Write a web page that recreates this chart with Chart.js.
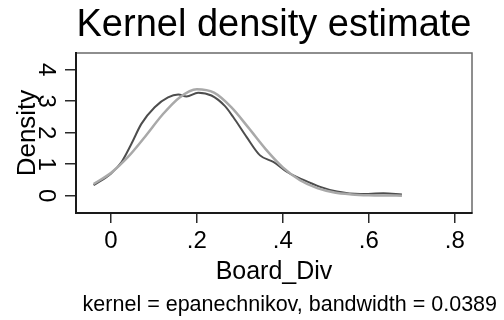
<!DOCTYPE html>
<html>
<head>
<meta charset="utf-8">
<title>Kernel density estimate</title>
<script src="https://cdn.jsdelivr.net/npm/chart.js"></script>
<style>
    html, body { margin: 0; padding: 0; background: #ffffff; }
    canvas { display: block; }
</style>
</head>
<body>
<canvas id="myChart" width="504" height="320"></canvas>
<script>
    // kernel density (dark line)
    const kdeX = [-0.04, 0.0, 0.025, 0.048, 0.071, 0.102, 0.133, 0.157, 0.176, 0.203, 0.234, 0.265, 0.285, 0.316, 0.347, 0.378, 0.409, 0.448, 0.487, 0.526, 0.58, 0.634, 0.677];
    const kdeY = [0.33, 0.7, 1.07, 1.65, 2.28, 2.81, 3.12, 3.21, 3.15, 3.27, 3.18, 2.85, 2.49, 1.86, 1.28, 1.07, 0.76, 0.5, 0.28, 0.13, 0.05, 0.08, 0.04];

    // normal density overlay (light line)
    const normX = [-0.04, 0.0, 0.04, 0.08, 0.12, 0.16, 0.2, 0.24, 0.28, 0.32, 0.36, 0.4, 0.44, 0.48, 0.52, 0.56, 0.6, 0.64, 0.677];
    const normY = [0.37, 0.72, 1.23, 1.88, 2.57, 3.12, 3.38, 3.27, 2.81, 2.16, 1.48, 0.9, 0.49, 0.24, 0.1, 0.04, 0.013, 0.004, 0.001];

    const xTicks = [0, 0.2, 0.4, 0.6, 0.8];
    const xTickLabels = ['0', '.2', '.4', '.6', '.8'];
    const yTicks = [0, 1, 2, 3, 4];
    const yTickLabels = ['0', '1', '2', '3', '4'];

    const fontFamily = "'Liberation Sans', Arial, Helvetica, sans-serif";

    const toPoints = (xs, ys) => xs.map((x, i) => ({ x, y: ys[i] }));

    // gray frame on top and right of the plot region
    const framePlugin = {
        id: 'frame',
        beforeDraw(chart) {
            const { ctx, chartArea } = chart;
            ctx.save();
            ctx.strokeStyle = '#6a6a6a';
            ctx.lineWidth = 1.5;
            ctx.strokeRect(chartArea.left, chartArea.top, chartArea.right - chartArea.left, chartArea.bottom - chartArea.top);
            ctx.restore();
        }
    };

    const ctx = document.getElementById('myChart');

    new Chart(ctx, {
        type: 'line',
        data: {
            datasets: [
                {
                    label: 'Normal density',
                    data: toPoints(normX, normY),
                    borderColor: '#a9a9a9',
                    borderWidth: 2.5,
                    pointRadius: 0,
                    fill: false,
                    cubicInterpolationMode: 'monotone',
                    order: 0
                }, {
                    label: 'Kernel density estimate',
                    data: toPoints(kdeX, kdeY),
                    borderColor: '#4d4d4d',
                    borderWidth: 2,
                    pointRadius: 0,
                    fill: false,
                    cubicInterpolationMode: 'monotone',
                    order: 1
                }
            ]
        },
        options: {
            responsive: false,
            animation: false,
            devicePixelRatio: 1,
            layout: {
                padding: { left: 0, right: 7, top: 0, bottom: 0 }
            },
            plugins: {
                legend: { display: false },
                tooltip: { enabled: false },
                title: {
                    display: true,
                    text: 'Kernel density estimate',
                    fullSize: false,
                    color: '#000000',
                    font: { family: fontFamily, size: 38, weight: 'normal' },
                    padding: { top: 3, bottom: 4.4 }
                },
                subtitle: {
                    display: true,
                    position: 'bottom',
                    align: 'end',
                    text: 'kernel = epanechnikov, bandwidth = 0.0389',
                    color: '#000000',
                    font: { family: fontFamily, size: 21.5, weight: 'normal' },
                    padding: { top: 0, bottom: 2.5 }
                }
            },
            scales: {
                x: {
                    type: 'linear',
                    position: 'bottom',
                    min: -0.081,
                    max: 0.84,
                    afterBuildTicks: scale => { scale.ticks = xTicks.map(v => ({ value: v })); },
                    afterFit: scale => { scale.height = 78.7; },
                    grid: { display: true, drawOnChartArea: false, drawTicks: true, tickLength: 10, color: '#2a2a2a', lineWidth: 1.5 },
                    border: { display: true, color: '#1a1a1a', width: 2 },
                    ticks: {
                        color: '#000000',
                        font: { family: fontFamily, size: 24 },
                        padding: 4,
                        maxRotation: 0,
                        autoSkip: false,
                        callback: (value, index) => xTickLabels[index]
                    },
                    title: {
                        display: true,
                        text: 'Board_Div',
                        color: '#000000',
                        font: { family: fontFamily, size: 25 },
                        padding: { top: 0, bottom: 5 }
                    }
                },
                y: {
                    type: 'linear',
                    position: 'left',
                    min: -0.55,
                    max: 4.53,
                    afterBuildTicks: scale => { scale.ticks = yTicks.map(v => ({ value: v })); },
                    afterFit: scale => { scale.width = 76; },
                    grid: { display: true, drawOnChartArea: false, drawTicks: true, tickLength: 11, color: '#2a2a2a', lineWidth: 1.5 },
                    border: { display: true, color: '#1a1a1a', width: 2 },
                    ticks: {
                        color: '#000000',
                        font: { family: fontFamily, size: 24 },
                        padding: 13,
                        minRotation: -90,
                        maxRotation: -90,
                        crossAlign: 'center',
                        autoSkip: false,
                        callback: (value, index) => yTickLabels[index]
                    },
                    title: {
                        display: true,
                        text: 'Density',
                        color: '#000000',
                        font: { family: fontFamily, size: 26 },
                        padding: { top: 12, bottom: 0 }
                    }
                },
                spacer: {
                    type: 'linear',
                    position: 'right',
                    display: true,
                    afterFit: scale => { scale.width = 25; },
                    grid: { display: false },
                    border: { display: false },
                    ticks: { display: false },
                    title: { display: false }
                }
            }
        },
        plugins: [framePlugin]
    });
</script>
</body>
</html>
